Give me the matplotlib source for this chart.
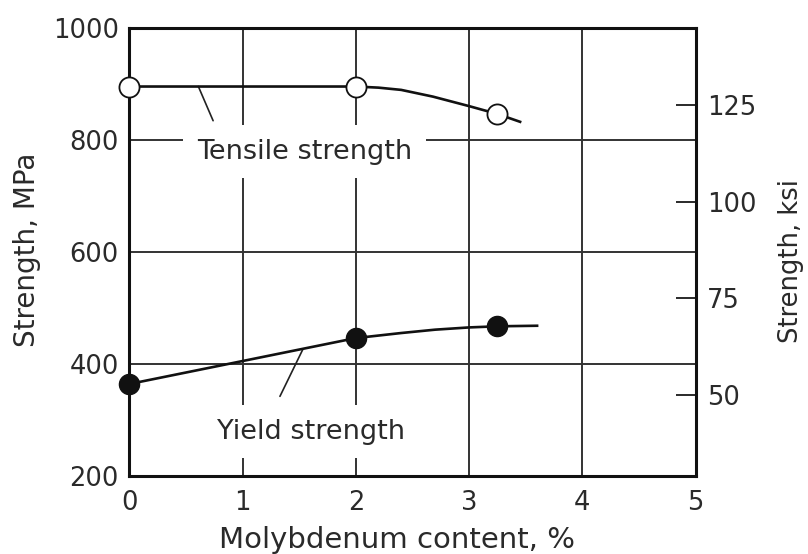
import matplotlib
matplotlib.use("Agg")
import matplotlib.pyplot as plt
import numpy as np

plt.rcParams['font.family'] = ['DejaVu Sans']

# Data (Mo content %, strength MPa)
mo_points = [0, 2, 3.25]
tensile_points = [895, 895, 846]
yield_points = [364, 446, 467]

# Smooth trend lines drawn through the points
tensile_curve_x = [0, 2, 2.2, 2.4, 2.68, 3.0, 3.25, 3.45]
tensile_curve_y = [895, 895, 893, 889, 877, 860, 846, 832]
yield_curve_x = [0, 1, 2, 2.4, 2.7, 3.0, 3.25, 3.6]
yield_curve_y = [364, 405, 446, 455, 461, 465, 467, 468]

x_ticks = [0, 1, 2, 3, 4, 5]
mpa_ticks = [200, 400, 600, 800, 1000]
ksi_ticks = [50, 75, 100, 125]
MPA_PER_KSI = 6.895

FS = 18.5
TXT = '#2a2a2a'

fig = plt.figure(figsize=(8.08, 5.54), dpi=100)
ax = fig.add_axes([0.160, 0.141, 0.701, 0.809])

ax.set_xlim(0, 5)
ax.set_ylim(200, 1000)
ax.set_xticks(x_ticks)
ax.set_yticks(mpa_ticks)
ax.tick_params(axis='both', length=0, labelsize=FS, colors=TXT)
ax.tick_params(axis='x', pad=10)
ax.tick_params(axis='y', pad=7.5)
ax.grid(True, color='#333333', linewidth=1.4)
for s in ax.spines.values():
    s.set_linewidth(2.2)
    s.set_color('#111111')

ax.plot(tensile_curve_x, tensile_curve_y, color='#111111', lw=1.9, zorder=4)
ax.plot(yield_curve_x, yield_curve_y, color='#111111', lw=1.9, zorder=4)
ax.plot(mo_points, tensile_points, 'o', ms=14.5, mfc='white', mec='#111111', mew=1.3,
        zorder=5, clip_on=False)
ax.plot(mo_points, yield_points, 'o', ms=14.5, mfc='#111111', mec='#111111',
        zorder=5, clip_on=False)

# Labels with leader lines
ax.annotate('', xy=(0.61, 895), xytext=(0.74, 834),
            arrowprops=dict(arrowstyle='-', color='#222222', lw=1.2, shrinkA=0, shrinkB=0),
            zorder=3)
ax.text(1.55, 779, 'Tensile strength', ha='center', va='center', fontsize=19.5,
        color=TXT, zorder=3,
        bbox=dict(facecolor='white', edgecolor='none', pad=10))
ax.annotate('', xy=(1.53, 425), xytext=(1.33, 342),
            arrowprops=dict(arrowstyle='-', color='#222222', lw=1.2, shrinkA=0, shrinkB=0),
            zorder=3)
ax.text(1.6, 279, 'Yield strength', ha='center', va='center', fontsize=19.5,
        color=TXT, zorder=3,
        bbox=dict(facecolor='white', edgecolor='none', pad=10))

ax.set_xlabel('Molybdenum content, %', fontsize=21, color=TXT)
ax.xaxis.set_label_coords(0.4735, -0.143)
ax.xaxis.label.set_verticalalignment('center')
ax.set_ylabel('Strength, MPa', fontsize=20, color=TXT)
ax.yaxis.set_label_coords(-0.18, 0.504)
ax.yaxis.label.set_verticalalignment('center')

sec = ax.secondary_yaxis('right', functions=(lambda m: m / MPA_PER_KSI,
                                             lambda k: k * MPA_PER_KSI))
sec.set_yticks(ksi_ticks)
sec.tick_params(axis='y', direction='in', length=14.5, width=1.4, labelsize=FS,
                colors=TXT, pad=8)
sec.spines['right'].set_visible(False)
sec.set_ylabel('Strength, ksi', fontsize=18.5, color=TXT)
sec.yaxis.set_label_coords(1.1675, 0.48, transform=ax.transAxes)
sec.yaxis.label.set_verticalalignment('center')

fig.savefig('out.png', dpi=100, facecolor='white')
